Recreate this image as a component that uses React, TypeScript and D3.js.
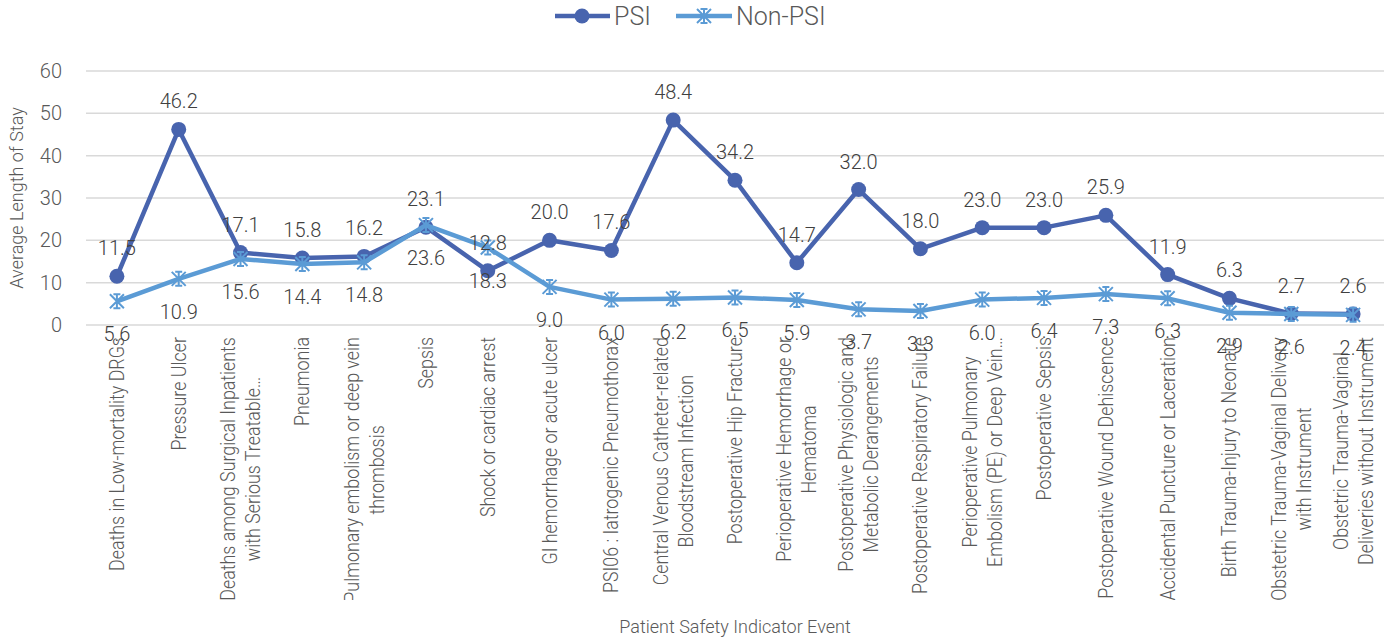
import React from "react";
import * as d3 from "d3";

const categories: string[] = [
  "Deaths in Low-mortality DRGs",
  "Pressure Ulcer",
  "Deaths among Surgical Inpatients\nwith Serious Treatable…",
  "Pneumonia",
  "Pulmonary embolism or deep vein\nthrombosis",
  "Sepsis",
  "Shock or cardiac arrest",
  "GI hemorrhage or acute ulcer",
  "PSI06 : Iatrogenic Pneumothorax",
  "Central Venous Catheter-related\nBloodstream Infection",
  "Postoperative Hip Fracture",
  "Perioperative Hemorrhage or\nHematoma",
  "Postoperative Physiologic and\nMetabolic Derangements",
  "Postoperative Respiratory Failure",
  "Perioperative Pulmonary\nEmbolism (PE) or Deep Vein…",
  "Postoperative Sepsis",
  "Postoperative Wound Dehiscence",
  "Accidental Puncture or Laceration",
  "Birth Trauma-Injury to Neonate",
  "Obstetric Trauma-Vaginal Delivery\nwith Instrument",
  "Obstetric Trauma-Vaginal\nDeliveries without Instrument",
];

const psiValues: number[] = [
  11.5, 46.2, 17.1, 15.8, 16.2, 23.1, 12.8, 20.0, 17.6, 48.4, 34.2, 14.7, 32.0,
  18.0, 23.0, 23.0, 25.9, 11.9, 6.3, 2.7, 2.6,
];

const nonPsiValues: number[] = [
  5.6, 10.9, 15.6, 14.4, 14.8, 23.6, 18.3, 9.0, 6.0, 6.2, 6.5, 5.9, 3.7, 3.3,
  6.0, 6.4, 7.3, 6.3, 2.9, 2.6, 2.4,
];

const yTicks: number[] = [0, 10, 20, 30, 40, 50, 60];
const seriesNames: string[] = ["PSI", "Non-PSI"];

const PSI_COLOR = "#4864AE";
const NON_COLOR = "#5B9BD5";
const FONT = "Roboto, 'Open Sans', sans-serif";
const TICK_SIZE = 21;
const TICK_SCALE = 0.85;
const TICK_WEIGHT = 300;

function starPath(s: number) {
  return `M${-s},${-s}L${s},${s}M${s},${-s}L${-s},${s}M0,${-s}L0,${s}M${-s / 2},${-s}L${s / 2},${-s}M${-s / 2},${s}L${s / 2},${s}`;
}

let ctx: CanvasRenderingContext2D | null = null;
function measure(t: string): number {
  if (!ctx) {
    const c = document.createElement("canvas");
    ctx = c.getContext("2d");
  }
  if (!ctx) return t.length * TICK_SIZE * 0.5;
  ctx.font = `${TICK_WEIGHT} ${TICK_SIZE}px Roboto`;
  return ctx.measureText(t).width * TICK_SCALE;
}

export default function App() {
  const W = 1393;
  const H = 640;
  const idx = categories.map((_, i) => String(i));
  const x = d3.scalePoint<string>().domain(idx).range([86, 1384]).padding(0.5);
  const y = d3.scaleLinear().domain([0, 60]).range([325, 71]);

  const line = d3
    .line<number>()
    .x((_, i) => x(String(i)) as number)
    .y((d) => y(d));

  const labelTop = 337;
  const lineGap = 25;

  return (
    <svg
      width={W}
      height={H}
      style={{ position: "absolute", left: 0, top: 0, background: "#fff" }}
      fontFamily={FONT}
    >
      <defs>
        <clipPath id="tickClip">
          <rect x={0} y={326} width={W} height={274} />
        </clipPath>
      </defs>

      {yTicks.map((t) => (
        <line
          key={t}
          x1={86}
          x2={1384}
          y1={y(t)}
          y2={y(t)}
          stroke="#d9d9d9"
          strokeWidth={1.5}
        />
      ))}

      {yTicks.map((t) => (
        <text
          key={"yl" + t}
          x={62}
          y={y(t) + 7}
          textAnchor="end"
          fontSize={20}
          fontWeight={TICK_WEIGHT}
          fill="#595959"
        >
          {t}
        </text>
      ))}

      <text
        transform={`translate(23,${(y(0) + y(60)) / 2}) rotate(-90)`}
        textAnchor="middle"
        fontSize={18}
        fontWeight={TICK_WEIGHT}
        fill="#595959"
      >
        Average Length of Stay
      </text>

      <g clipPath="url(#tickClip)">
        {categories.map((c, i) => {
          const lines = c.split("\n");
          const cx = x(String(i)) as number;
          const n = lines.length;
          const maxLen = Math.max(...lines.map(measure));
          const midY = labelTop + maxLen / 2;
          return lines.map((ln, j) => {
            const off = (j - (n - 1) / 2) * lineGap;
            const bx = cx + off + 7;
            return (
              <text
                key={i + "-" + j}
                transform={`translate(${bx},${midY}) rotate(-90) scale(${TICK_SCALE},1)`}
                textAnchor="middle"
                fontSize={TICK_SIZE}
                fontWeight={TICK_WEIGHT}
                fill="#595959"
              >
                {ln}
              </text>
            );
          });
        })}
      </g>

      <text
        x={735}
        y={633}
        textAnchor="middle"
        fontSize={18}
        fontWeight={TICK_WEIGHT}
        fill="#595959"
      >
        Patient Safety Indicator Event
      </text>

      <path
        d={line(psiValues) || ""}
        fill="none"
        stroke={PSI_COLOR}
        strokeWidth={4.5}
        strokeLinejoin="round"
      />
      {psiValues.map((v, i) => (
        <circle
          key={"pc" + i}
          cx={x(String(i)) as number}
          cy={y(v)}
          r={7.5}
          fill={PSI_COLOR}
        />
      ))}

      <path
        d={line(nonPsiValues) || ""}
        fill="none"
        stroke={NON_COLOR}
        strokeWidth={4.5}
        strokeLinejoin="round"
      />
      {nonPsiValues.map((v, i) => (
        <path
          key={"ns" + i}
          transform={`translate(${x(String(i))},${y(v)})`}
          d={starPath(7)}
          stroke={NON_COLOR}
          strokeWidth={2}
          fill="none"
        />
      ))}

      {psiValues.map((v, i) => (
        <text
          key={"pl" + i}
          x={x(String(i)) as number}
          y={y(v) - 21}
          textAnchor="middle"
          fontSize={20}
          fontWeight={TICK_WEIGHT}
          fill="#404040"
        >
          {v.toFixed(1)}
        </text>
      ))}
      {nonPsiValues.map((v, i) => (
        <text
          key={"nl" + i}
          x={x(String(i)) as number}
          y={y(v) + 40}
          textAnchor="middle"
          fontSize={20}
          fontWeight={TICK_WEIGHT}
          fill="#404040"
        >
          {v.toFixed(1)}
        </text>
      ))}

      <g>
        <line x1={555} x2={610} y1={16} y2={16} stroke={PSI_COLOR} strokeWidth={4.5} />
        <circle cx={582} cy={16} r={7.5} fill={PSI_COLOR} />
        <text x={614} y={25} fontSize={25} fontWeight={TICK_WEIGHT} fill="#595959">
          {seriesNames[0]}
        </text>
        <line x1={676} x2={732} y1={16} y2={16} stroke={NON_COLOR} strokeWidth={4.5} />
        <path
          transform="translate(704,16)"
          d={starPath(7)}
          stroke={NON_COLOR}
          strokeWidth={2}
          fill="none"
        />
        <text x={736} y={25} fontSize={25} fontWeight={TICK_WEIGHT} fill="#595959">
          {seriesNames[1]}
        </text>
      </g>
    </svg>
  );
}
